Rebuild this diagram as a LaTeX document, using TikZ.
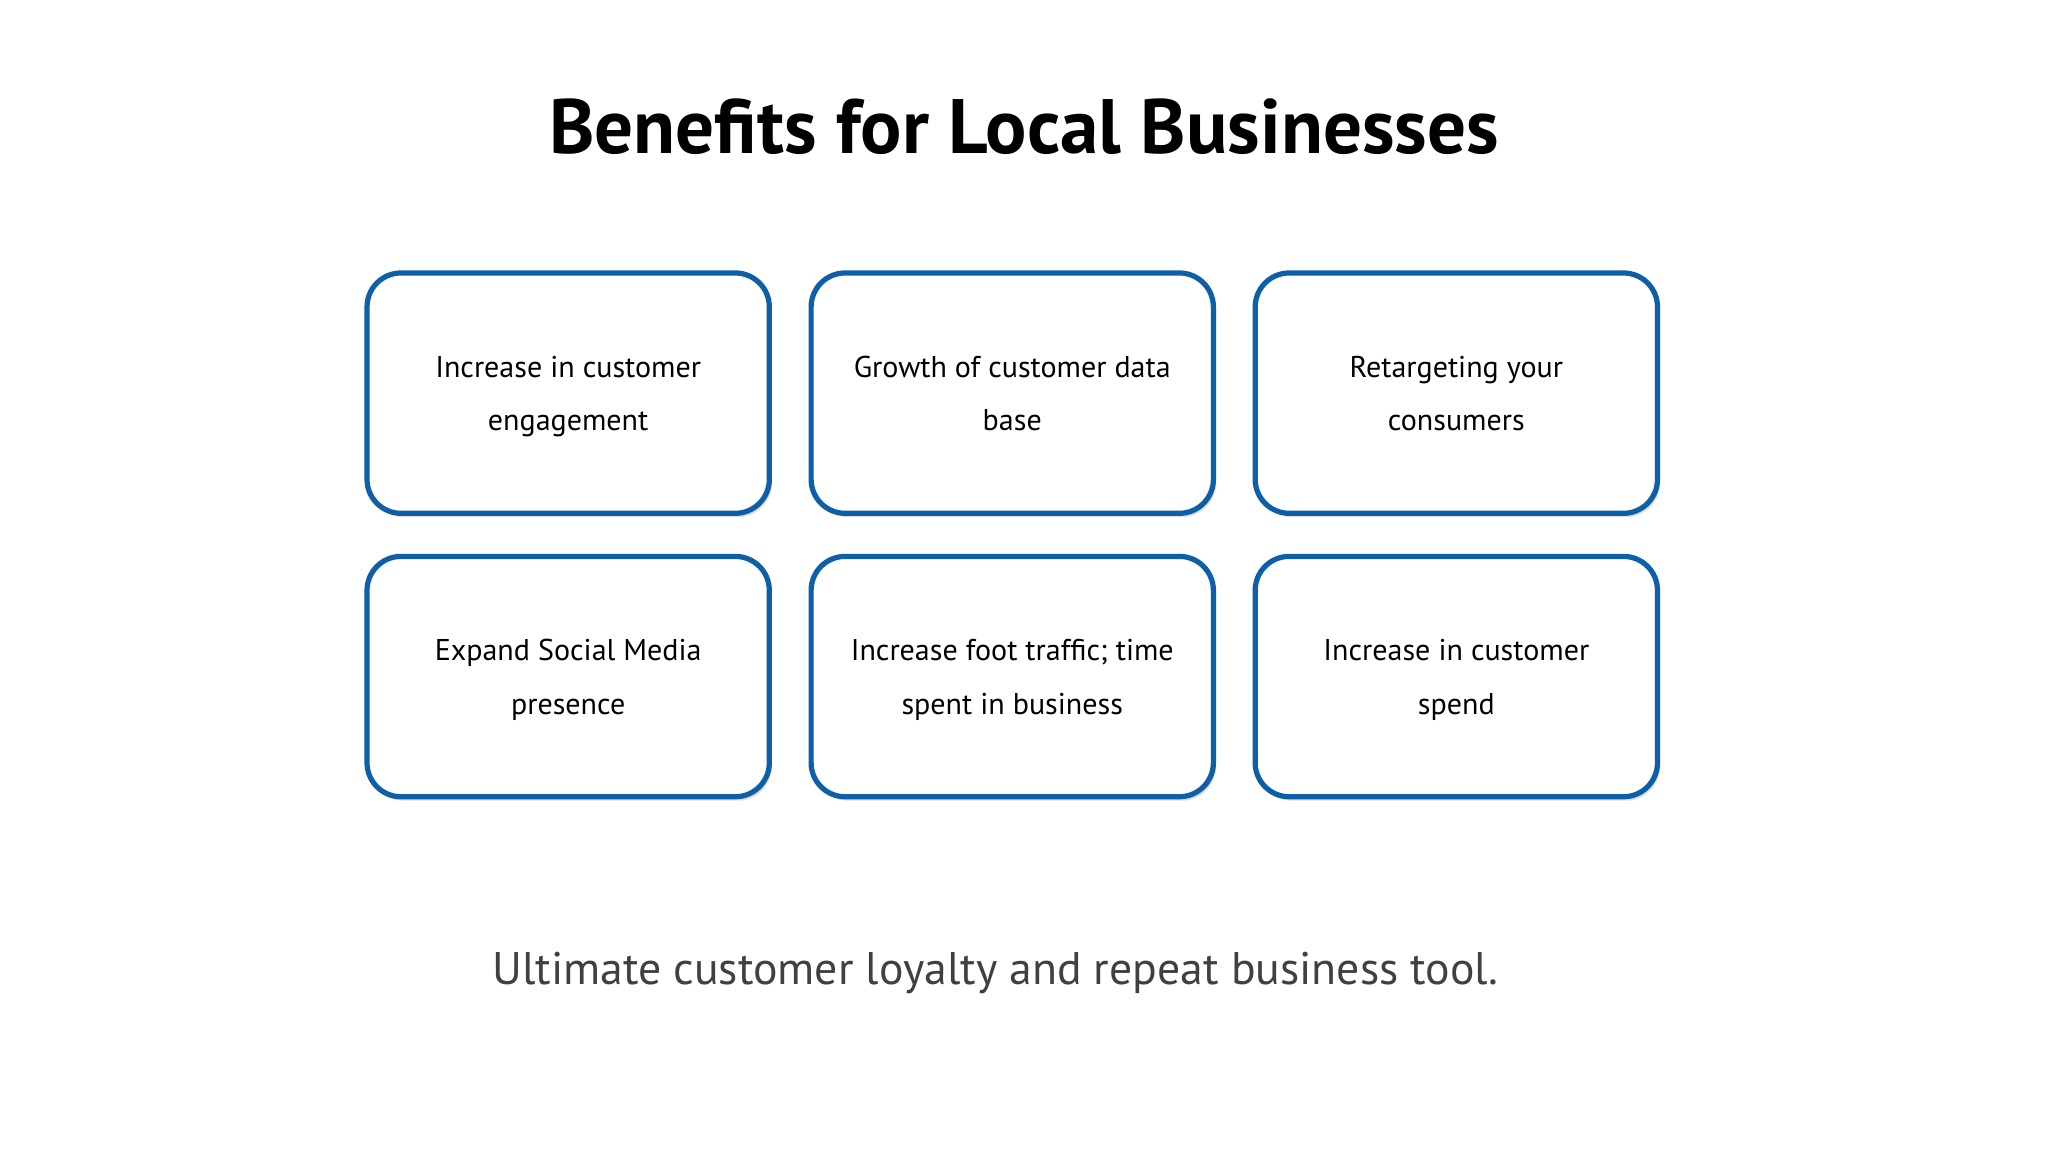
\documentclass[tikz,border=0pt]{standalone}
\usepackage{fontspec}
\setmainfont{PT Sans}
\usetikzlibrary{shadows}
\definecolor{boxblue}{HTML}{0E5FA8}
\definecolor{subgray}{HTML}{404040}
\begin{document}
\begin{tikzpicture}[x=1pt,y=-1pt,
  card/.style={draw=boxblue,line width=4pt,rounded corners=26pt,fill=white,
    minimum width=308pt,minimum height=184pt,align=center,
    font=\fontsize{23}{41}\selectfont,
    drop shadow={shadow xshift=2pt,shadow yshift=-3pt,opacity=0.25}}]
\useasboundingbox (0,0) rectangle (1568,882);
\fill[white] (0,0) rectangle (1568,882);
\node (title) at (784,97) {\fontsize{59}{62}\selectfont\bfseries Benefits for Local Businesses};
\node[card] (b1) at (435,301) {\strut Increase in customer\\\strut engagement};
\node[card] (b2) at (775,301) {\strut Growth of customer data\\\strut base};
\node[card] (b3) at (1115,301) {\strut Retargeting your\\\strut consumers};
\node[card] (b4) at (435,518) {\strut Expand Social Media\\\strut presence};
\node[card] (b5) at (775,518) {\strut Increase foot traffic; time\\\strut spent in business};
\node[card] (b6) at (1115,518) {\strut Increase in customer\\\strut spend};
\node[text=subgray] (sub) at (762,745) {\fontsize{35}{40}\selectfont Ultimate customer loyalty and repeat business tool.};
\end{tikzpicture}
\end{document}
